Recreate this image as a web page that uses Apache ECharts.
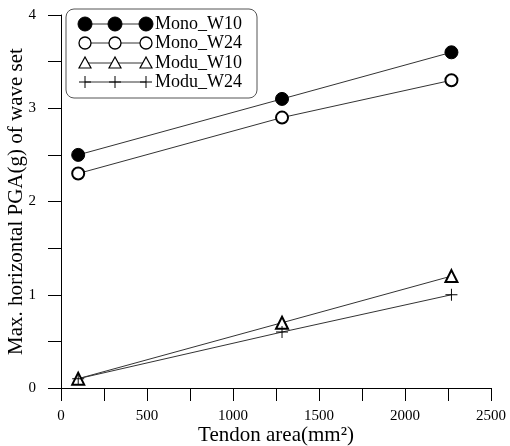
<!DOCTYPE html>
<html>
<head>
<meta charset="utf-8">
<script src="https://cdn.jsdelivr.net/npm/echarts@6/dist/echarts.min.js"></script>
<style>html,body{margin:0;padding:0;background:#fff;}#c{width:510px;height:446px;}</style>
</head>
<body>
<div id="c"></div>
<script>
const tendonArea = [100, 1285, 2270];
const monoW10 = [2.5, 3.1, 3.6];
const monoW24 = [2.3, 2.9, 3.3];
const moduW10 = [0.1, 0.7, 1.2];
const moduW24 = [0.1, 0.6, 1.0];
const seriesNames = ['Mono_W10', 'Mono_W24', 'Modu_W10', 'Modu_W24'];

const FAMILY = 'Liberation Serif';
const FONT = '"Liberation Serif", serif';
const LINE = '#333';
const PLUS = 'path://M4.6,0 H5.4 V4.6 H10 V5.4 H5.4 V10 H4.6 V5.4 H0 V4.6 H4.6 Z';

function pairs(vals) { return tendonArea.map((x, i) => [x, vals[i]]); }

const chart = echarts.init(document.getElementById('c'), null, { renderer: 'canvas' });

const legX = [85, 115, 146];
const legY = [24, 43, 63, 82];
const legendGraphics = [{
  type: 'rect', shape: { x: 66, y: 9, width: 191, height: 89, r: 8 },
  style: { fill: '#fff', stroke: '#555', lineWidth: 1 }, z: 10
}];
seriesNames.forEach((name, i) => {
  const y = legY[i];
  legendGraphics.push({ type: 'line', shape: { x1: legX[0], y1: y, x2: legX[2], y2: y }, style: { stroke: LINE, lineWidth: 1 }, z: 11 });
  legX.forEach(x => {
    if (i === 0) legendGraphics.push({ type: 'circle', shape: { cx: x, cy: y, r: 7 }, style: { fill: '#000', stroke: '#000' }, z: 12 });
    else if (i === 1) legendGraphics.push({ type: 'circle', shape: { cx: x, cy: y, r: 6 }, style: { fill: '#fff', stroke: '#000', lineWidth: 1.3 }, z: 12 });
    else if (i === 2) legendGraphics.push({ type: 'polygon', shape: { points: [[x, y - 6], [x - 6, y + 5], [x + 6, y + 5]] }, style: { fill: '#fff', stroke: '#000', lineWidth: 1.2 }, z: 12 });
    else {
      legendGraphics.push({ type: 'line', shape: { x1: x - 6, y1: y, x2: x + 6, y2: y }, style: { stroke: '#000', lineWidth: 1 }, z: 12 });
      legendGraphics.push({ type: 'line', shape: { x1: x, y1: y - 6, x2: x, y2: y + 6 }, style: { stroke: '#000', lineWidth: 1 }, z: 12 });
    }
  });
  legendGraphics.push({ type: 'text', x: 155, y: y, style: { text: name, font: '18px ' + FONT, fill: '#000', verticalAlign: 'middle', align: 'left' }, z: 12 });
});

function axisBase(labelMargin, nameSize) {
  return {
    axisLine: { show: true, lineStyle: { color: '#000', width: 1 } },
    axisTick: { show: true, length: 13, inside: false, lineStyle: { color: '#000' } },
    minorTick: { show: true, splitNumber: 2, length: 13, lineStyle: { color: '#000' } },
    splitLine: { show: false },
    axisLabel: {
      show: true, color: '#000', fontFamily: FAMILY, fontSize: 15, margin: labelMargin,
      formatter: v => String(v)
    },
    nameMoveOverlap: false,
    nameTextStyle: { color: '#000', fontFamily: FAMILY, fontSize: nameSize }
  };
}

chart.setOption({
  animation: false,
  backgroundColor: '#fff',
  textStyle: { fontFamily: FAMILY },
  grid: { left: 61, right: 19, top: 15, bottom: 58, containLabel: false, outerBoundsMode: 'none' },
  xAxis: Object.assign(axisBase(21, 21), {
    type: 'value', min: 0, max: 2500, interval: 500,
    name: 'Tendon area(mm²)', nameLocation: 'middle', nameGap: 37
  }),
  yAxis: Object.assign(axisBase(25, 21), {
    type: 'value', min: 0, max: 4, interval: 1,
    name: 'Max. horizontal PGA(g) of wave set', nameLocation: 'middle', nameGap: 34
  }),
  graphic: legendGraphics,
  series: [
    { name: seriesNames[0], type: 'line', data: pairs(monoW10), symbol: 'circle', symbolSize: 13,
      lineStyle: { color: LINE, width: 1 }, itemStyle: { color: '#000', borderColor: '#000' } },
    { name: seriesNames[1], type: 'line', data: pairs(monoW24), symbol: 'emptyCircle', symbolSize: 12,
      lineStyle: { color: LINE, width: 1 }, itemStyle: { color: '#000', borderColor: '#000', borderWidth: 1.3 } },
    { name: seriesNames[2], type: 'line', data: pairs(moduW10), symbol: 'emptyTriangle', symbolSize: 12,
      lineStyle: { color: LINE, width: 1 }, itemStyle: { color: '#000', borderColor: '#000', borderWidth: 1.2 } },
    { name: seriesNames[3], type: 'line', data: pairs(moduW24), symbol: PLUS, symbolSize: 12,
      lineStyle: { color: LINE, width: 1 }, itemStyle: { color: '#000', borderWidth: 0 } }
  ]
});
</script>
</body>
</html>
